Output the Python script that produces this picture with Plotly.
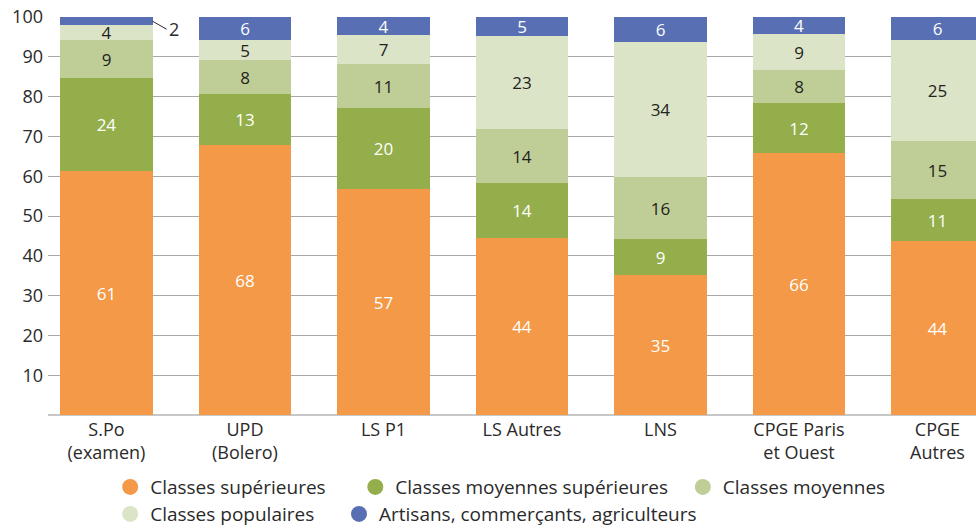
import plotly.graph_objects as go

categories = ["S.Po<br>(examen)", "UPD<br>(Bolero)", "LS P1", "LS Autres", "LNS",
              "CPGE Paris<br>et Ouest", "CPGE<br>Autres"]
series_names = ["Classes supérieures", "Classes moyennes supérieures", "Classes moyennes",
                "Classes populaires", "Artisans, commerçants, agriculteurs"]
sup = [61.2, 67.9, 56.8, 44.4, 35.3, 65.9, 43.6]
moy_sup = [23.6, 12.8, 20.4, 13.8, 9.0, 12.4, 10.6]
moy = [9.4, 8.4, 10.9, 13.7, 15.6, 8.4, 14.7]
pop = [3.7, 5.1, 7.4, 23.3, 33.8, 9.0, 25.3]
art = [2.1, 5.8, 4.4, 4.8, 6.3, 4.3, 5.8]
y_ticks = [10, 20, 30, 40, 50, 60, 70, 80, 90, 100]

values = [sup, moy_sup, moy, pop, art]
colors = ["#F39947", "#93AE4A", "#BFCE96", "#DCE4C8", "#5870B3"]
text_colors = ["white", "white", "#222222", "#222222", "white"]
FONT = "Open Sans"
TXT = "#2a2a2a"

x = list(range(len(categories)))
BAR_W = 0.665

fig = go.Figure()
for name, vals, col, tcol in zip(series_names, values, colors, text_colors):
    texts = [f"{v:.0f}" if v >= 3 else "" for v in vals]
    fig.add_trace(go.Bar(
        x=x, y=vals, name=name, marker=dict(color=col, line=dict(width=0)),
        width=BAR_W, text=texts, textposition="inside", insidetextanchor="middle",
        textangle=0, constraintext="none",
        textfont=dict(color=tcol, size=17, family=FONT), showlegend=False,
        hoverinfo="skip",
    ))

# small values labelled outside with a leader line
for i in range(len(categories)):
    if art[i] < 3:
        base = sup[i] + moy_sup[i] + moy[i] + pop[i]
        fig.add_annotation(x=x[i] + BAR_W / 2, y=base + art[i] / 2, text=f"{art[i]:.0f}",
                           showarrow=True, arrowhead=0, arrowwidth=1, arrowcolor=TXT,
                           ax=14, ay=8, xanchor="left", yanchor="middle",
                           font=dict(size=18, color=TXT, family=FONT))

# legend entries (circles)
rows = ["legend", "legend", "legend", "legend2", "legend2"]
pad = [5, 2, 0, 4, 0]
for name, col, lg, p in zip(series_names, colors, rows, pad):
    label = name + "\u00a0" * p
    fig.add_trace(go.Scatter(x=[None], y=[None], mode="markers", name=label,
                             marker=dict(symbol="circle", size=22, color=col),
                             legend=lg, showlegend=True, hoverinfo="skip"))

legend_common = dict(orientation="h", xanchor="left", yanchor="middle",
                     font=dict(size=19, family=FONT, color=TXT), itemwidth=30,
                     traceorder="normal", bgcolor="rgba(0,0,0,0)")
fig.update_layout(
    width=976, height=528,
    margin=dict(l=48, r=0, t=17, b=113, autoexpand=False),
    barmode="stack", bargap=0,
    plot_bgcolor="white", paper_bgcolor="white",
    font=dict(family=FONT, size=18, color=TXT),
    uniformtext=dict(minsize=17, mode="show"),
    legend=dict(x=0.067, y=-0.181, **legend_common),
    legend2=dict(x=0.067, y=-0.249, **legend_common),
    xaxis=dict(tickvals=x, ticktext=categories, range=[-0.422, 6.278],
               showgrid=False, ticks="", showline=False, zeroline=False,
               automargin=False, ticklabelstandoff=2,
               tickfont=dict(size=18, family=FONT, color=TXT)),
    yaxis=dict(range=[0, 100], tickvals=y_ticks, showgrid=True, gridcolor="#a8a8a8",
               gridwidth=1, zeroline=True, zerolinecolor="#c8c8c8", zerolinewidth=2,
               showline=False, ticks="", ticklabelstandoff=4, automargin=False,
               ticklabeloverflow="allow",
               tickfont=dict(size=18, family=FONT, color=TXT)),
)

# remove the browser's default 8px page margin so the figure fills the window
fig.write_html("out.html", config={"displayModeBar": False},
               post_script="document.body.style.margin='0';")
